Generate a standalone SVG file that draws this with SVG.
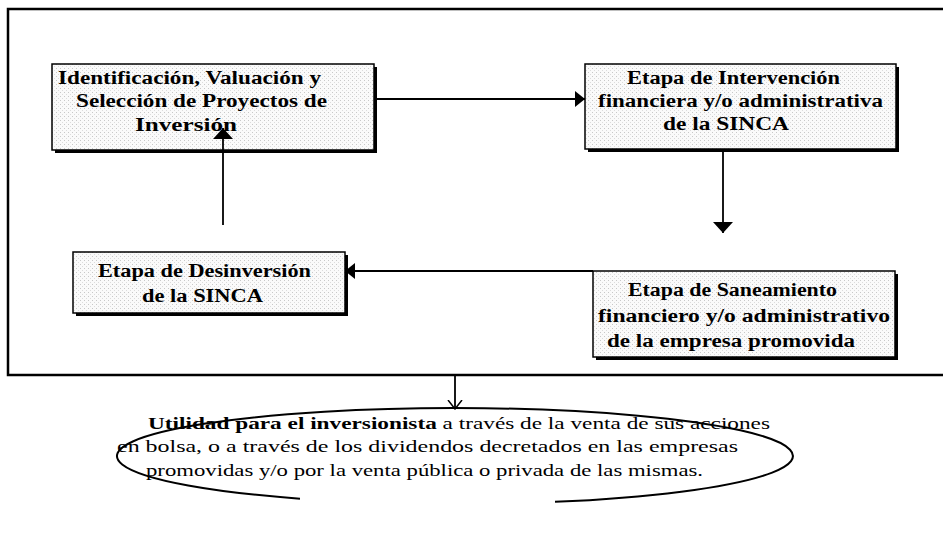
<svg xmlns="http://www.w3.org/2000/svg" width="943" height="542" viewBox="0 0 943 542">
<style>
.bg{fill:#ffffff}
.frame{fill:none;stroke:#000;stroke-width:2.5}
.box{fill:url(#dots);stroke:#000;stroke-width:1.5}
.shadow{fill:#000}
.bt{font-family:"Liberation Serif","Times New Roman",serif;font-weight:bold;font-size:18px;fill:#000}
.et{font-family:"Liberation Serif","Times New Roman",serif;font-size:17px;fill:#000}
.et .b{font-weight:bold}
.conn{fill:none;stroke:#000;stroke-width:1.8}
.oval{fill:none;stroke:#000;stroke-width:2}
</style>
<defs>
<pattern id="dots" width="4" height="4" patternUnits="userSpaceOnUse">
<rect width="4" height="4" fill="#fafafa"/>
<rect x="0" y="0" width="1" height="1" fill="#c8c8c8"/>
<rect x="2" y="2" width="1" height="1" fill="#dcdcdc"/>
</pattern>
<marker id="tri" markerUnits="userSpaceOnUse" viewBox="0 0 10 16" markerWidth="10" markerHeight="16" refX="10" refY="8" orient="auto">
<path d="M0,0 L10,8 L0,16 Z" fill="#000"/>
</marker>
<marker id="triBig" markerUnits="userSpaceOnUse" viewBox="0 0 11 20" markerWidth="11" markerHeight="20" refX="11" refY="10" orient="auto">
<path d="M0,0 L11,10 L0,20 Z" fill="#000"/>
</marker>
<marker id="vee" markerUnits="userSpaceOnUse" viewBox="0 0 10 16" markerWidth="10" markerHeight="16" refX="9" refY="8" orient="auto">
<path d="M0,1 L9,8 L0,15" fill="none" stroke="#000" stroke-width="1.5"/>
</marker>
</defs>
<rect class="bg" x="0" y="0" width="943" height="542"/>
<rect class="frame" x="8" y="9" width="945" height="366"/>

<g id="connectors">
<path class="conn" d="M374,99 L585,99" marker-end="url(#tri)"/>
<path class="conn" d="M723,150 L723,233" marker-end="url(#triBig)"/>
<path class="conn" d="M593,271 L345,271" marker-end="url(#tri)"/>
<path class="conn" d="M455,376 L455,409" marker-end="url(#vee)"/>
</g>

<g id="n1">
<rect class="shadow" x="55" y="67" width="322" height="86"/>
<rect class="box" x="52" y="64" width="322" height="86"/>
<text class="bt" x="58" y="84" textLength="263" lengthAdjust="spacingAndGlyphs">Identificación, Valuación y</text>
<text class="bt" x="76" y="107" textLength="251" lengthAdjust="spacingAndGlyphs">Selección de Proyectos de</text>
<text class="bt" x="135" y="131" textLength="102" lengthAdjust="spacingAndGlyphs">Inversión</text>
</g>

<g id="n2">
<rect class="shadow" x="588" y="67" width="311" height="85"/>
<rect class="box" x="585" y="64" width="311" height="85"/>
<text class="bt" x="627" y="84" textLength="213" lengthAdjust="spacingAndGlyphs">Etapa de Intervención</text>
<text class="bt" x="598" y="107" textLength="285" lengthAdjust="spacingAndGlyphs">financiera y/o administrativa</text>
<text class="bt" x="663" y="130" textLength="126" lengthAdjust="spacingAndGlyphs">de la SINCA</text>
</g>

<g id="n3">
<rect class="shadow" x="76" y="255" width="272" height="61"/>
<rect class="box" x="73" y="252" width="272" height="61"/>
<text class="bt" x="98" y="277" textLength="213" lengthAdjust="spacingAndGlyphs">Etapa de Desinversión</text>
<text class="bt" x="142" y="302" textLength="121" lengthAdjust="spacingAndGlyphs">de la SINCA</text>
</g>

<g id="n4">
<rect class="shadow" x="596" y="274" width="302" height="86"/>
<rect class="box" x="593" y="271" width="302" height="86"/>
<text class="bt" x="628" y="296" textLength="209" lengthAdjust="spacingAndGlyphs">Etapa de Saneamiento</text>
<text class="bt" x="598" y="322" textLength="292" lengthAdjust="spacingAndGlyphs">financiero y/o administrativo</text>
<text class="bt" x="607" y="347" textLength="248" lengthAdjust="spacingAndGlyphs">de la empresa promovida</text>
</g>

<g id="connectors-over">
<path class="conn" d="M223,225 L223,128" marker-end="url(#triBig)"/>
</g>

<g id="n5">
<path class="oval" d="M300,498.66 A338,48 0 1,1 555,501.85"/>
<text class="et" x="148" y="429" textLength="622" lengthAdjust="spacingAndGlyphs"><tspan class="b">Utilidad para el inversionista</tspan> a través de la venta de sus acciones</text>
<text class="et" x="117" y="452" textLength="621" lengthAdjust="spacingAndGlyphs">en bolsa, o a través de los dividendos decretados en las empresas</text>
<text class="et" x="146" y="476" textLength="557" lengthAdjust="spacingAndGlyphs">promovidas y/o por la venta pública o privada de las mismas.</text>
</g>
</svg>
